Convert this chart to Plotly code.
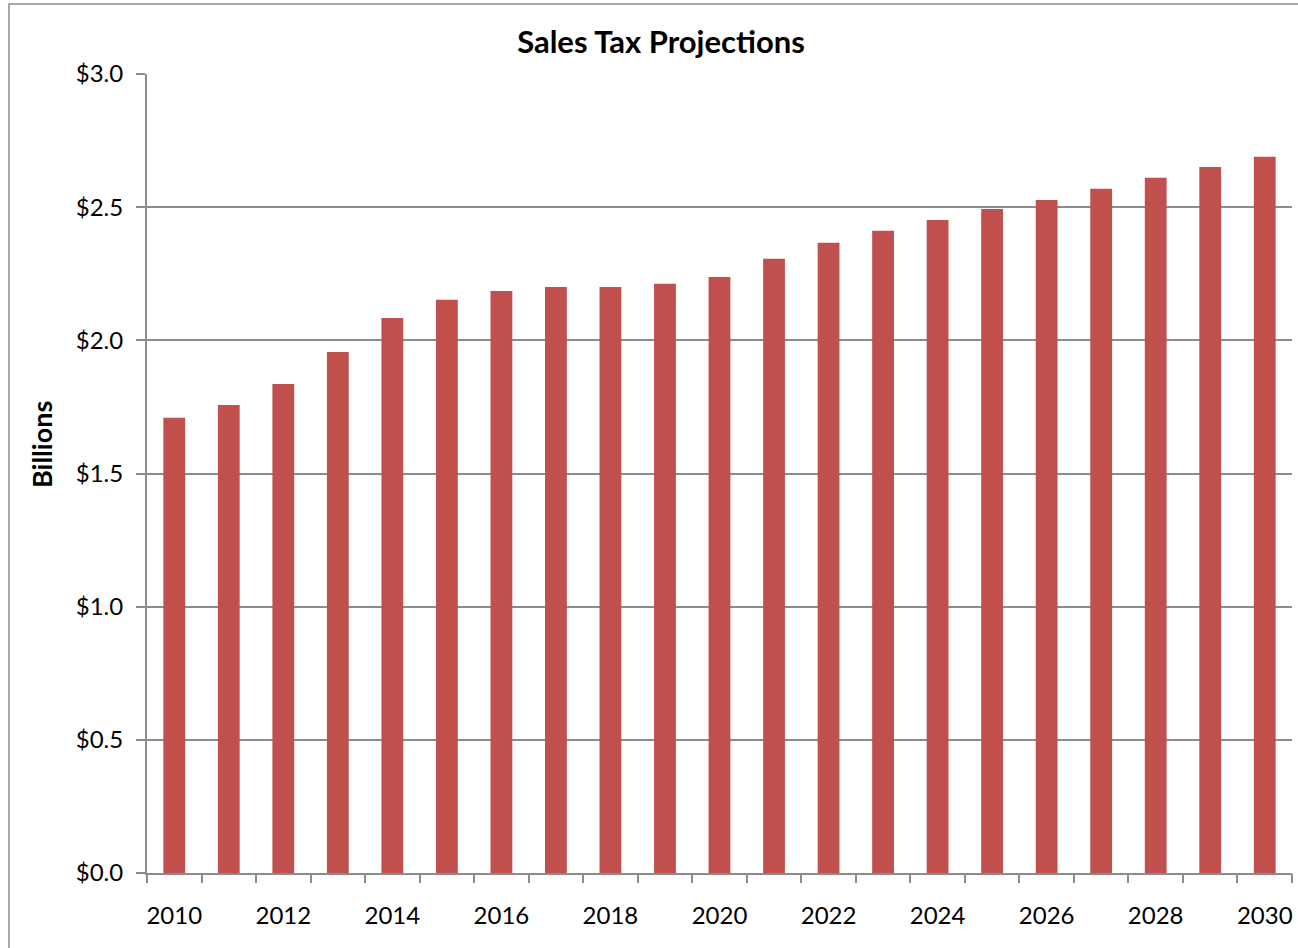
import plotly.graph_objects as go

years = list(range(2010, 2031))
sales_tax = [1.709, 1.757, 1.836, 1.956, 2.084, 2.152, 2.185, 2.200, 2.200, 2.212,
             2.238, 2.306, 2.366, 2.411, 2.452, 2.493, 2.527, 2.569, 2.610, 2.651, 2.689]
label_years = years[::2]
y_ticks = [0.0, 0.5, 1.0, 1.5, 2.0, 2.5, 3.0]

W, H = 1298, 948
L, R, T, B = 147, 1292, 74, 873
pw, ph = R - L, B - T

fnt = "Lato, 'Open Sans', sans-serif"
grid = "#8c8c8c"

fig = go.Figure()
fig.add_trace(go.Bar(x=years, y=sales_tax, marker=dict(color="#C0504D", line=dict(width=0)),
                     width=0.4, showlegend=False))
# invisible trace on second axis to draw boundary ticks
fig.add_trace(go.Scatter(x=[years[0]], y=[0], xaxis="x2", mode="markers",
                         marker=dict(opacity=0), showlegend=False, hoverinfo="skip"))

xr = [years[0] - 0.5, years[-1] + 0.5]
fig.update_layout(
    width=W, height=H,
    margin=dict(l=L, r=W - R, t=T, b=H - B),
    paper_bgcolor="white", plot_bgcolor="white",
    font=dict(family=fnt, color="black", size=24),
    title=dict(text="<b>Sales Tax Projections</b>", x=661 / W, xanchor="center",
               y=1 - 42 / H, yanchor="middle", font=dict(size=31, family=fnt)),
    xaxis=dict(range=xr, tickvals=label_years, ticktext=[str(v) for v in label_years],
               ticks="", showgrid=False, zeroline=False, showline=True, linecolor=grid,
               linewidth=2, tickfont=dict(size=24), ticklabelstandoff=20),
    xaxis2=dict(range=xr, overlaying="x", anchor="y", side="bottom",
                tickvals=[y + 0.5 for y in [years[0] - 1] + years], showticklabels=False,
                ticks="outside", ticklen=9, tickcolor=grid, tickwidth=1.5,
                showgrid=False, zeroline=False, showline=False),
    yaxis=dict(range=[0, 3.0], tickvals=y_ticks, tickformat="$.1f", ticks="outside",
               ticklen=9, tickcolor=grid, tickwidth=1.5, showgrid=True, gridcolor=grid,
               gridwidth=1.5, zeroline=False, showline=True, linecolor=grid, linewidth=2,
               tickfont=dict(size=24), ticklabelstandoff=8),
    annotations=[dict(text="<b>Billions</b>", textangle=-90, xref="paper", yref="paper",
                      x=(41 - L) / pw, y=(B - 445) / ph, xanchor="center", yanchor="middle",
                      showarrow=False, font=dict(size=27, family=fnt))],
    shapes=[dict(type="rect", xref="paper", yref="paper",
                 x0=(9 - L) / pw, x1=(W + 5 - L) / pw,
                 y0=-(H + 5 - B) / ph, y1=1 + (T - 4) / ph,
                 line=dict(color="#8c8c8c", width=1.5), fillcolor="rgba(0,0,0,0)",
                 layer="below")],
)

fig.write_html("out.html")
